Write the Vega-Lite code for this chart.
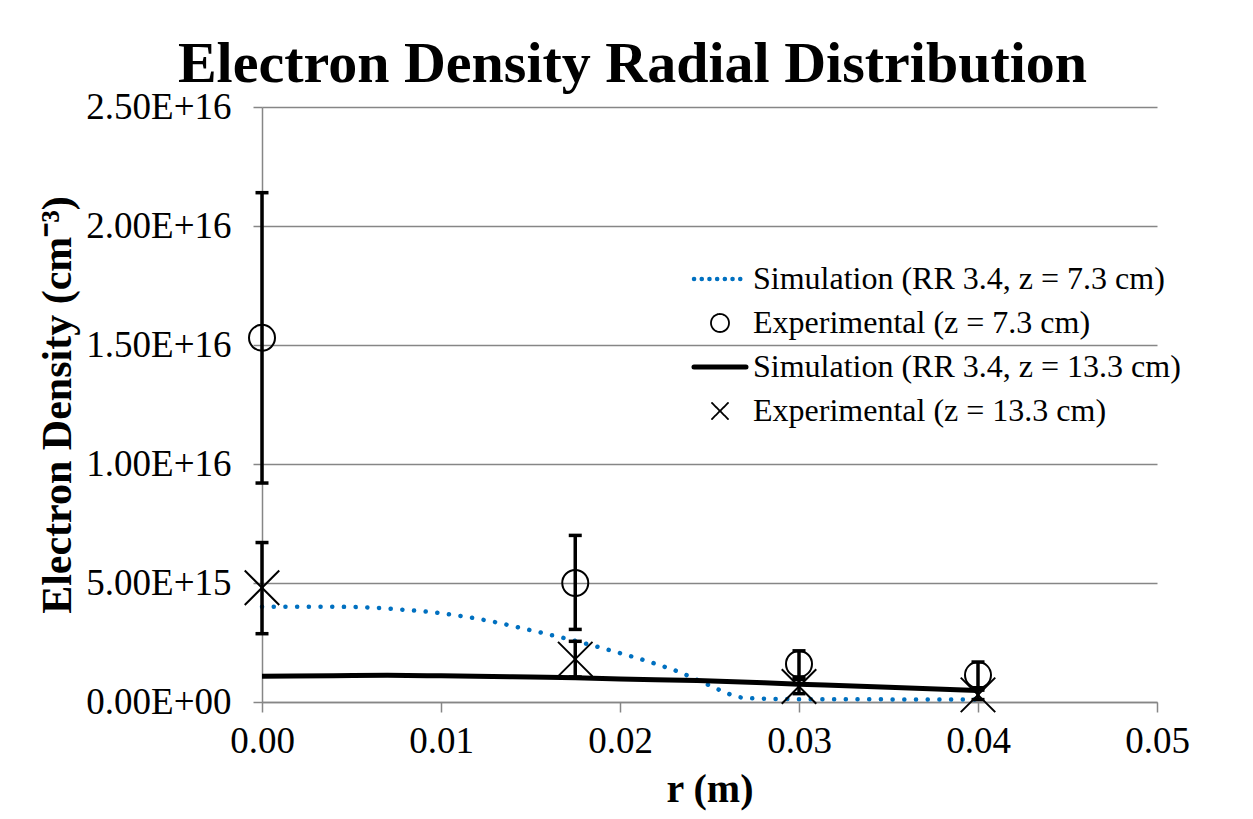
{
  "$schema": "https://vega.github.io/schema/vega-lite/v6.json",
  "autosize": {"type": "none"},
  "padding": {"left": 262, "top": 107, "right": 96, "bottom": 117},
  "width": 895,
  "height": 595,
  "background": "white",
  "title": {
    "text": "Electron Density Radial Distribution",
    "font": "Liberation Serif",
    "fontSize": 58,
    "fontWeight": "bold",
    "color": "black",
    "anchor": "middle",
    "frame": "group",
    "dx": -77,
    "dy": 10,
    "offset": 4
  },
  "config": {
    "view": {"stroke": null},
    "axis": {
      "labelFont": "Liberation Serif",
      "labelFontSize": 37,
      "labelColor": "black",
      "titleFont": "Liberation Serif",
      "titleFontWeight": "bold",
      "titleColor": "black",
      "domainColor": "#868686",
      "domainWidth": 1.5,
      "tickColor": "#868686",
      "tickWidth": 1.5,
      "gridColor": "#868686",
      "gridWidth": 1.5
    }
  },
  "datasets": {
    "sim": [
      {"series": "Simulation (RR 3.4, z = 7.3 cm)", "r": 0.0, "ne": 4.0e15},
      {"series": "Simulation (RR 3.4, z = 7.3 cm)", "r": 0.002, "ne": 4.0e15},
      {"series": "Simulation (RR 3.4, z = 7.3 cm)", "r": 0.004, "ne": 4.0e15},
      {"series": "Simulation (RR 3.4, z = 7.3 cm)", "r": 0.006, "ne": 3.97e15},
      {"series": "Simulation (RR 3.4, z = 7.3 cm)", "r": 0.008, "ne": 3.87e15},
      {"series": "Simulation (RR 3.4, z = 7.3 cm)", "r": 0.010, "ne": 3.73e15},
      {"series": "Simulation (RR 3.4, z = 7.3 cm)", "r": 0.0126, "ne": 3.42e15},
      {"series": "Simulation (RR 3.4, z = 7.3 cm)", "r": 0.0151, "ne": 3.0e15},
      {"series": "Simulation (RR 3.4, z = 7.3 cm)", "r": 0.0177, "ne": 2.53e15},
      {"series": "Simulation (RR 3.4, z = 7.3 cm)", "r": 0.0196, "ne": 2.14e15},
      {"series": "Simulation (RR 3.4, z = 7.3 cm)", "r": 0.0215, "ne": 1.72e15},
      {"series": "Simulation (RR 3.4, z = 7.3 cm)", "r": 0.0234, "ne": 1.23e15},
      {"series": "Simulation (RR 3.4, z = 7.3 cm)", "r": 0.0246, "ne": 0.83e15},
      {"series": "Simulation (RR 3.4, z = 7.3 cm)", "r": 0.0258, "ne": 0.43e15},
      {"series": "Simulation (RR 3.4, z = 7.3 cm)", "r": 0.0264, "ne": 0.25e15},
      {"series": "Simulation (RR 3.4, z = 7.3 cm)", "r": 0.027, "ne": 0.17e15},
      {"series": "Simulation (RR 3.4, z = 7.3 cm)", "r": 0.028, "ne": 0.14e15},
      {"series": "Simulation (RR 3.4, z = 7.3 cm)", "r": 0.030, "ne": 0.12e15},
      {"series": "Simulation (RR 3.4, z = 7.3 cm)", "r": 0.035, "ne": 0.11e15},
      {"series": "Simulation (RR 3.4, z = 7.3 cm)", "r": 0.040, "ne": 0.1e15},
      {"series": "Simulation (RR 3.4, z = 13.3 cm)", "r": 0.0, "ne": 1.08e15},
      {"series": "Simulation (RR 3.4, z = 13.3 cm)", "r": 0.004, "ne": 1.1e15},
      {"series": "Simulation (RR 3.4, z = 13.3 cm)", "r": 0.007, "ne": 1.12e15},
      {"series": "Simulation (RR 3.4, z = 13.3 cm)", "r": 0.010, "ne": 1.1e15},
      {"series": "Simulation (RR 3.4, z = 13.3 cm)", "r": 0.015, "ne": 1.05e15},
      {"series": "Simulation (RR 3.4, z = 13.3 cm)", "r": 0.0175, "ne": 1.02e15},
      {"series": "Simulation (RR 3.4, z = 13.3 cm)", "r": 0.020, "ne": 0.97e15},
      {"series": "Simulation (RR 3.4, z = 13.3 cm)", "r": 0.0243, "ne": 0.9e15},
      {"series": "Simulation (RR 3.4, z = 13.3 cm)", "r": 0.030, "ne": 0.75e15},
      {"series": "Simulation (RR 3.4, z = 13.3 cm)", "r": 0.035, "ne": 0.62e15},
      {"series": "Simulation (RR 3.4, z = 13.3 cm)", "r": 0.040, "ne": 0.48e15}
    ],
    "exp": [
      {"series": "Experimental (z = 7.3 cm)", "r": 0.0, "ne": 1.53e16, "lo": 9.2e15, "hi": 2.14e16},
      {"series": "Experimental (z = 7.3 cm)", "r": 0.0175, "ne": 5.0e15, "lo": 3.05e15, "hi": 7.0e15},
      {"series": "Experimental (z = 7.3 cm)", "r": 0.03, "ne": 1.6e15, "lo": 1.05e15, "hi": 2.15e15},
      {"series": "Experimental (z = 7.3 cm)", "r": 0.04, "ne": 1.13e15, "lo": 0.6e15, "hi": 1.68e15},
      {"series": "Experimental (z = 13.3 cm)", "r": 0.0, "ne": 4.8e15, "lo": 2.87e15, "hi": 6.7e15},
      {"series": "Experimental (z = 13.3 cm)", "r": 0.0175, "ne": 1.8e15, "lo": 1.05e15, "hi": 2.55e15},
      {"series": "Experimental (z = 13.3 cm)", "r": 0.03, "ne": 0.65e15, "lo": 0.35e15, "hi": 0.95e15},
      {"series": "Experimental (z = 13.3 cm)", "r": 0.04, "ne": 0.3e15, "lo": 0.1e15, "hi": 0.5e15}
    ]
  },
  "encoding": {
    "x": {
      "field": "r",
      "type": "quantitative",
      "scale": {"domain": [0, 0.05], "nice": false, "zero": false},
      "axis": {
        "title": "r (m)",
        "titleFontSize": 40,
        "titlePadding": 10,
        "values": [0, 0.01, 0.02, 0.03, 0.04, 0.05],
        "format": ".2f",
        "grid": false,
        "tickSize": 10,
        "labelPadding": 11,
        "labelFlush": false
      }
    },
    "y": {
      "field": "ne",
      "type": "quantitative",
      "scale": {"domain": [0, 2.5e16], "nice": false},
      "axis": {
        "title": "Electron Density (cm⁻³)",
        "titleFontSize": 42,
        "titlePadding": 6,
        "values": [0, 5e15, 1e16, 1.5e16, 2e16, 2.5e16],
        "labelExpr": "datum.value == 0 ? '0.00E+00' : upper(format(datum.value, '.2e'))",
        "grid": true,
        "tickSize": 9,
        "labelPadding": 22
      }
    }
  },
  "layer": [
    {
      "data": {"name": "sim"},
      "transform": [{"filter": "datum.series == 'Simulation (RR 3.4, z = 7.3 cm)'"}],
      "mark": {"type": "line", "strokeDash": [0.1, 11.6], "strokeCap": "round", "strokeWidth": 4.5, "interpolate": "monotone"},
      "encoding": {
        "color": {
          "field": "series",
          "type": "nominal",
          "scale": {
            "domain": ["Simulation (RR 3.4, z = 7.3 cm)", "Experimental (z = 7.3 cm)", "Simulation (RR 3.4, z = 13.3 cm)", "Experimental (z = 13.3 cm)"],
            "range": ["#0070C0", "black", "black", "black"]
          },
          "legend": {
            "title": null,
            "orient": "none",
            "legendX": 442,
            "legendY": 156,
            "padding": 0,
            "labelFont": "Liberation Serif",
            "labelFontSize": 32,
            "labelColor": "black",
            "labelLimit": 0,
            "labelOffset": 17,
            "symbolSize": 1600,
            "rowPadding": 12,
            "encode": {
              "symbols": {
                "update": {
                  "shape": {"signal": "datum.value == 'Experimental (z = 7.3 cm)' ? 'circle' : datum.value == 'Experimental (z = 13.3 cm)' ? 'M-1,-1L1,1M1,-1L-1,1' : 'M-1.3,0H1.3'"},
                  "size": {"signal": "datum.value == 'Experimental (z = 7.3 cm)' ? 324 : datum.value == 'Experimental (z = 13.3 cm)' ? 256 : 1600"},
                  "stroke": {"signal": "datum.value == 'Simulation (RR 3.4, z = 7.3 cm)' ? '#0070C0' : 'black'"},
                  "fill": {"value": "transparent"},
                  "strokeWidth": {"signal": "datum.value == 'Simulation (RR 3.4, z = 7.3 cm)' ? 4.5 : datum.value == 'Simulation (RR 3.4, z = 13.3 cm)' ? 5 : 1.8"},
                  "strokeDash": {"signal": "datum.value == 'Simulation (RR 3.4, z = 7.3 cm)' ? [0.1, 7.6] : [1, 0]"},
                  "strokeCap": {"value": "round"},
                  "opacity": {"value": 1}
                }
              }
            }
          }
        }
      }
    },
    {
      "data": {"name": "sim"},
      "transform": [{"filter": "datum.series == 'Simulation (RR 3.4, z = 13.3 cm)'"}],
      "mark": {"type": "line", "strokeWidth": 5, "interpolate": "monotone"},
      "encoding": {"color": {"field": "series", "type": "nominal"}}
    },
    {
      "data": {"name": "exp"},
      "mark": {"type": "rule", "strokeWidth": 3.5, "color": "black"},
      "encoding": {"y": {"field": "lo", "type": "quantitative"}, "y2": {"field": "hi"}}
    },
    {
      "data": {"name": "exp"},
      "mark": {"type": "tick", "orient": "horizontal", "size": 13, "thickness": 3.5, "color": "black", "opacity": 1},
      "encoding": {"y": {"field": "lo", "type": "quantitative"}}
    },
    {
      "data": {"name": "exp"},
      "mark": {"type": "tick", "orient": "horizontal", "size": 13, "thickness": 3.5, "color": "black", "opacity": 1},
      "encoding": {"y": {"field": "hi", "type": "quantitative"}}
    },
    {
      "data": {"name": "exp"},
      "transform": [{"filter": "datum.series == 'Experimental (z = 7.3 cm)'"}],
      "mark": {"type": "point", "shape": "circle", "size": 676, "filled": false, "strokeWidth": 2, "opacity": 1},
      "encoding": {"color": {"field": "series", "type": "nominal"}}
    },
    {
      "data": {"name": "exp"},
      "transform": [{"filter": "datum.series == 'Experimental (z = 13.3 cm)'"}],
      "mark": {"type": "point", "shape": "M-1,-1L1,1M1,-1L-1,1", "size": 1190, "filled": false, "strokeWidth": 2, "opacity": 1},
      "encoding": {"color": {"field": "series", "type": "nominal"}}
    }
  ]
}
